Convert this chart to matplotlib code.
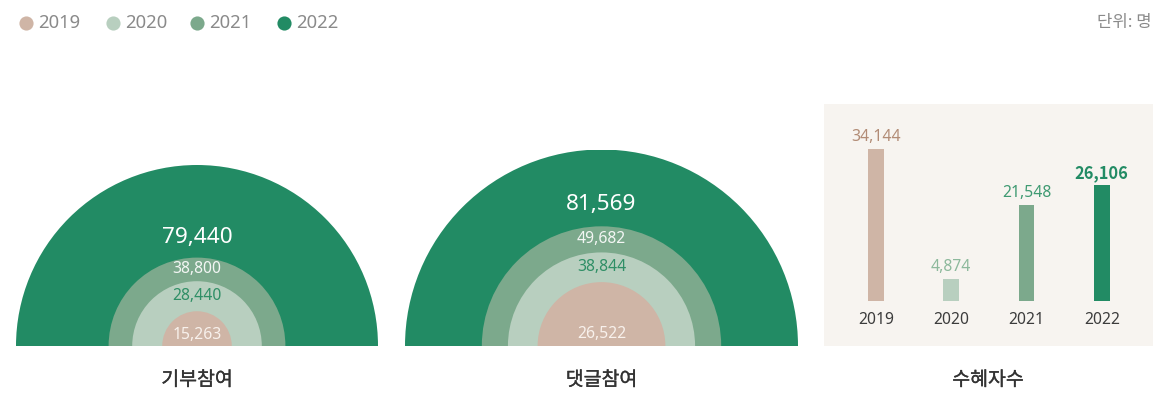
import matplotlib
matplotlib.use("Agg")
import matplotlib.pyplot as plt
import matplotlib.patheffects as pe
from matplotlib.patches import Wedge

plt.rcParams['font.family'] = ['Noto Sans', 'Noto Sans CJK KR', 'DejaVu Sans']
CJK = ['Noto Sans CJK KR', 'DejaVu Sans']

# ---- data ----
years = ["2019", "2020", "2021", "2022"]
donation = [15263, 28440, 38800, 79440]      # 기부참여
comments = [26522, 38844, 49682, 81569]      # 댓글참여
recipients = [34144, 4874, 21548, 26106]     # 수혜자수
panel_titles = ["기부참여", "댓글참여", "수혜자수"]
unit_text = "단위: 명"

colors = ["#cfb5a6", "#b8cfbf", "#7ca98c", "#228b64"]
value_colors = ["#b28c76", "#8db99c", "#3f9a72", "#228b64"]
ring_label_colors = ["#f8f1ec", "#2f8f66", "#f3f6f4", "#ffffff"]

W, H = 1163, 408
fig = plt.figure(figsize=(W / 100, H / 100), dpi=100)


def px_axes(x0, y0, x1, y1):
    """Axes placed by pixel box (top-left origin)."""
    return fig.add_axes([x0 / W, 1 - y1 / H, (x1 - x0) / W, (y1 - y0) / H])


# full-figure overlay for legend and titles
bg = px_axes(0, 0, W, H)
bg.set_xlim(0, W)
bg.set_ylim(H, 0)
bg.axis("off")

legend_x = [26, 113, 197, 284]
for x, c, y in zip(legend_x, colors, years):
    bg.plot([x], [23], "o", ms=10.2, color=c, mec="none")
    bg.text(x + 12, 23, y, fontsize=13.3, color="#8a8a8a", va="center", ha="left")
bg.text(1152, 23, unit_text, fontsize=12, color="#8a8a8a", va="center", ha="right",
        family=CJK)


def half_rings(cx, radius_px, values):
    ax = px_axes(cx - radius_px, 346 - radius_px, cx + radius_px, 346)
    R = max(values)
    ax.set_xlim(-R, R)
    ax.set_ylim(0, R)
    ax.set_aspect("equal")
    ax.axis("off")
    order = sorted(range(len(values)), key=lambda i: -values[i])
    for i in order:
        ax.add_patch(Wedge((0, 0), values[i], 0, 180, color=colors[i], lw=0))
    v = values
    label_y = [0.06 * R,
               (v[0] + v[1]) / 2,
               (v[1] + v[2]) / 2,
               v[2] + 0.11 * R]
    sizes = [11.3, 11.3, 11.3, 16.2]
    for i in range(4):
        ax.text(0, label_y[i], f"{v[i]:,}", ha="center", va="center",
                fontsize=sizes[i], color=ring_label_colors[i])
    return ax


half_rings(197, 181, donation)
half_rings(601.5, 196.5, comments)

# bar panel
bax = px_axes(824, 104, 1153, 346)
bax.set_facecolor("#f7f4f0")
for s in bax.spines.values():
    s.set_visible(False)
bax.set_xticks([])
bax.set_yticks([])
scale = 151.7 / max(recipients)           # pixels per person
bax.set_xlim(-0.69, 3.68)
bax.set_ylim(-(346 - 300.7) / scale, (300.7 - 104) / scale)
xs = range(len(years))
bax.bar(xs, recipients, width=0.21, color=colors)
for i, v in enumerate(recipients):
    latest = i == len(recipients) - 1
    bax.annotate(f"{v:,}", (i, v), xytext=(0, 8.6), textcoords="offset points",
                 ha="center", va="center", fontsize=11.8 if latest else 11.3,
                 color=value_colors[i],
                 fontweight="bold" if latest else "normal",
                 family=CJK if latest else None)
    bax.annotate(years[i], (i, 0), xytext=(0, -14), textcoords="offset points",
                 ha="center", va="center", fontsize=11.3, color="#3c3c3c")

# medium-weight look for the panel titles
title_fx = [pe.withStroke(linewidth=0.22, foreground="#333333")]
for x, t in zip([197, 601.5, 988], panel_titles):
    bg.text(x, 380, t, ha="center", va="center", fontsize=14, color="#333333",
            family=CJK, path_effects=title_fx)

fig.savefig("out.png", dpi=100)
